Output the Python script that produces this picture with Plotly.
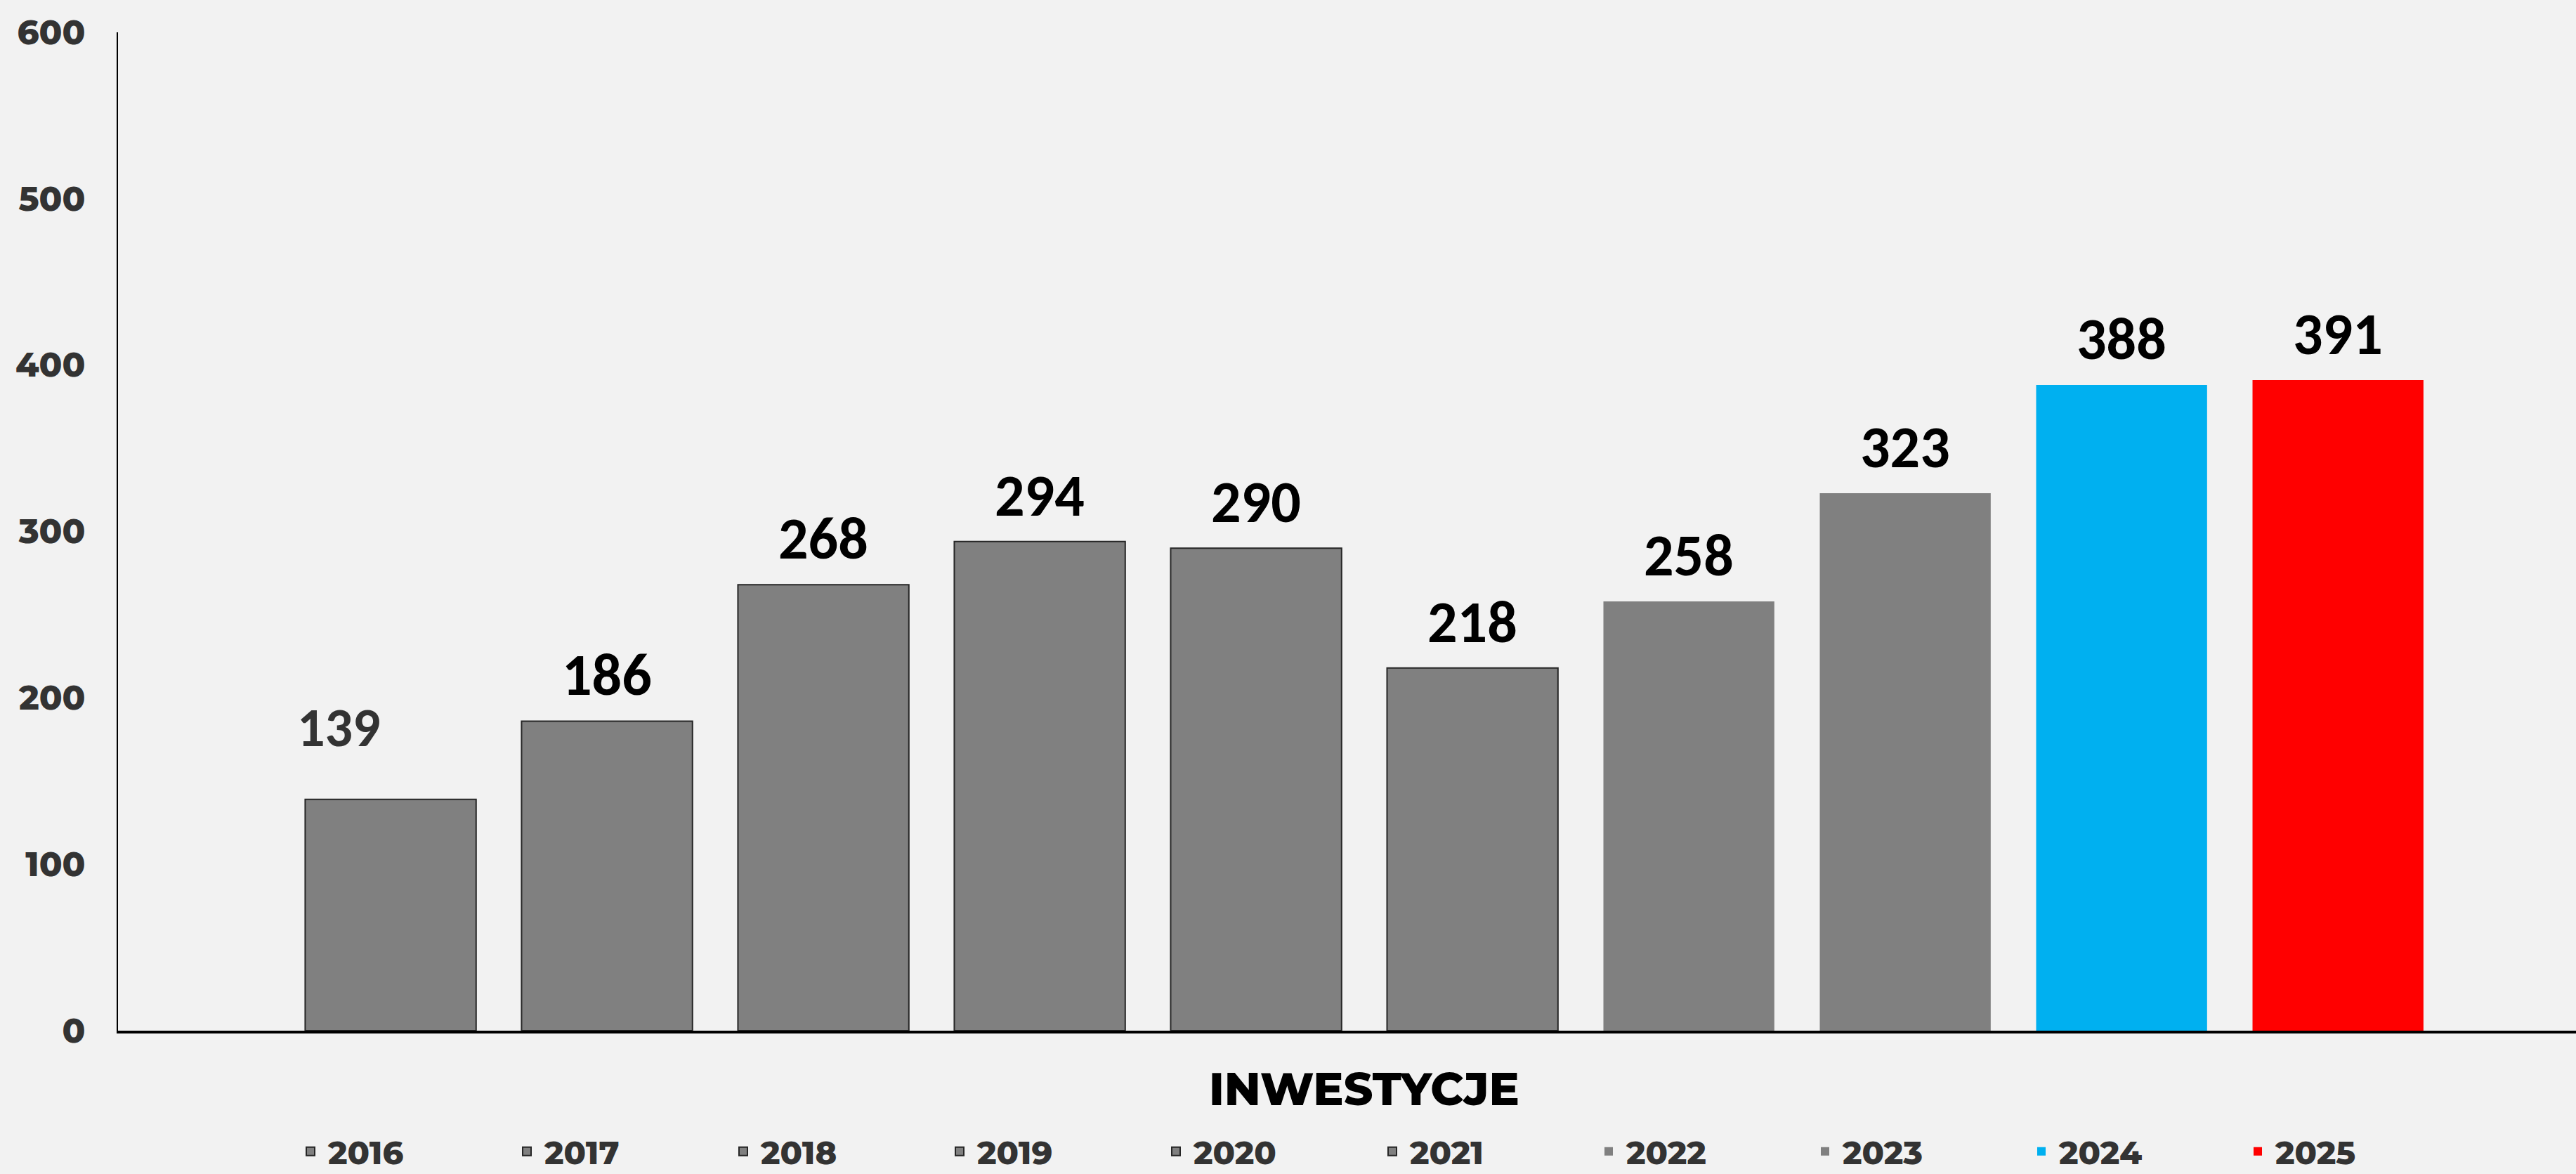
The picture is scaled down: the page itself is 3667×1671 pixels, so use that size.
import plotly.graph_objects as go

# ---- data ----
years = ["2016", "2017", "2018", "2019", "2020", "2021", "2022", "2023", "2024", "2025"]
values = [139, 186, 268, 294, 290, 218, 258, 323, 388, 391]
bar_colors = ["#808080"] * 8 + ["#00B0F0", "#FF0000"]
outline_widths = [2, 2, 2, 2, 2, 2, 0, 0, 0, 0]
category_label = "INWESTYCJE"
y_ticks = [0, 100, 200, 300, 400, 500, 600]

W, H = 3667, 1671
ML, MR, MT, MB = 168, 0, 46, 204
AX_FONT = "Montserrat, Inter, 'Open Sans', sans-serif"
LBL_FONT = "Carlito, Lato, 'Open Sans', sans-serif"

fig = go.Figure()
for yr, v, c, lw in zip(years, values, bar_colors, outline_widths):
    fig.add_trace(go.Bar(
        x=[yr], y=[v], name=yr, width=0.79,
        marker=dict(color=c, line=dict(color="#262626", width=lw)),
        hoverinfo="x+y",
    ))

# value labels (x given as the category's serial index)
for i, v in enumerate(values):
    if i == 0:
        fig.add_annotation(x=i, y=v, text=str(v), showarrow=False,
                           yanchor="bottom", xanchor="center", xshift=-74, yshift=53,
                           font=dict(family=LBL_FONT, size=78, color="#333333", weight="bold"))
    else:
        fig.add_annotation(x=i, y=v, text=str(v), showarrow=False,
                           yanchor="bottom", xanchor="center", yshift=12,
                           font=dict(family=LBL_FONT, size=84, color="#000000", weight="bold"))

# category label under the group
fig.add_annotation(x=(len(years) - 1) / 2, xref="x", y=-0.0584, yref="paper",
                   text=category_label, showarrow=False, yanchor="middle", xanchor="center",
                   font=dict(family=AX_FONT, size=64.5, color="#000000", weight=800))

fig.update_layout(
    width=W, height=H,
    template="none",
    barmode="overlay",
    paper_bgcolor="#F2F2F2", plot_bgcolor="#F2F2F2",
    margin=dict(l=ML, r=MR, t=MT, b=MB, autoexpand=False),
    showlegend=True,
    legend=dict(
        orientation="h",
        x=(417 - ML) / (W - ML - MR), xanchor="left",
        y=-0.121, yanchor="middle",
        entrywidth=253, entrywidthmode="pixels",
        itemwidth=40,
        font=dict(family=AX_FONT, size=46, color="#333333", weight=800),
        bgcolor="rgba(0,0,0,0)", borderwidth=0,
        traceorder="normal",
    ),
    xaxis=dict(
        type="category", range=[-1.26, 10.10],
        showticklabels=False, showgrid=False, zeroline=False,
        showline=True, linecolor="#000000", linewidth=4, ticks="",
    ),
    yaxis=dict(
        range=[0, 600], tickvals=y_ticks, showgrid=False, zeroline=False,
        showline=True, linecolor="#000000", linewidth=2, ticks="",
        ticklabelstandoff=35,
        tickfont=dict(family=AX_FONT, size=48, color="#333333", weight=800),
    ),
)

fig.write_html("out.html", config={"displayModeBar": False},
               post_script="document.body.style.margin='0px';")
